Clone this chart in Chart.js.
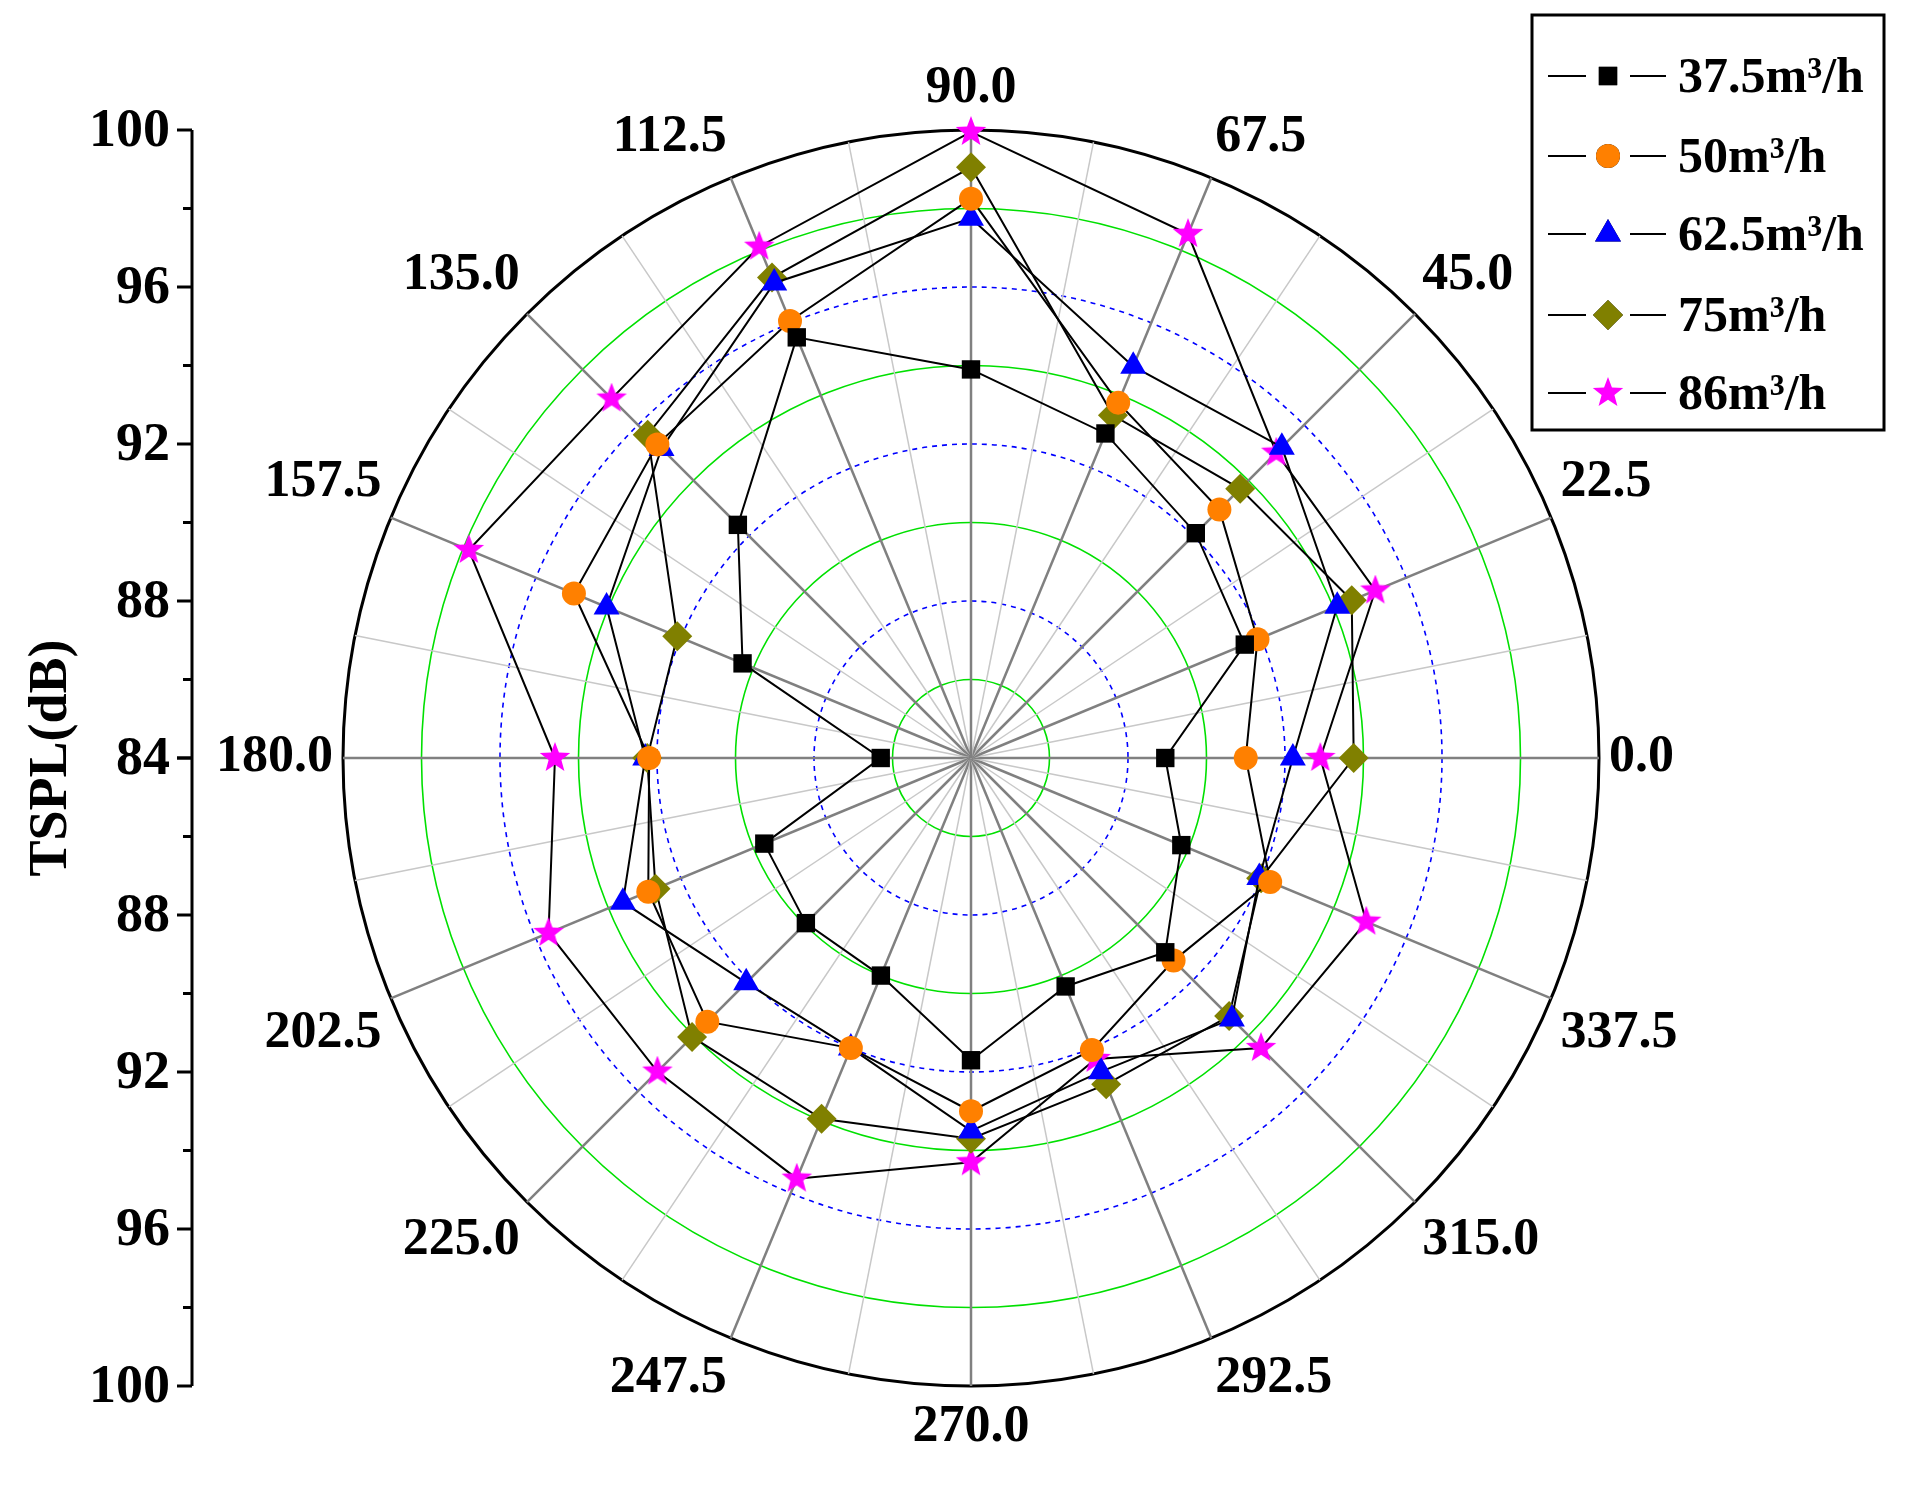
<!DOCTYPE html>
<html>
<head>
<title>TSPL polar</title>
<script src="https://cdn.jsdelivr.net/npm/chart.js"></script>
<style>
  html, body { margin: 0; padding: 0; background: #fff; }
  #wrap { position: relative; width: 1905px; height: 1501px; }
</style>
</head>
<body>
<div id="wrap"><canvas id="polarChart"></canvas></div>
<script>
// angles in degrees, counter-clockwise from 0
const angles = [0, 22.5, 45, 67.5, 90, 112.5, 135, 157.5, 180, 202.5, 225, 247.5, 270, 292.5, 315, 337.5];
const seriesNames = ['37.5m³/h', '50m³/h', '62.5m³/h', '75m³/h', '86m³/h'];
const flow375 = [88.95, 91.55, 92.1, 92.95, 93.9, 95.6, 92.4, 90.3, 86.3, 89.7, 89.95, 90.0, 91.7, 90.3, 91.0, 89.8];
const flow50  = [91.0, 91.9, 92.95, 93.8, 98.25, 96.05, 95.3, 94.95, 92.2, 92.9, 93.5, 92.0, 93.0, 92.05, 91.3, 92.25];
const flow625 = [92.2, 94.1, 95.2, 94.8, 97.75, 97.1, 95.15, 94.05, 92.3, 93.6, 92.1, 92.0, 93.5, 92.65, 93.4, 91.95];
const flow75  = [93.75, 94.5, 93.7, 93.45, 99.05, 97.25, 95.65, 92.1, 92.25, 92.7, 94.05, 93.95, 93.7, 93.0, 93.3, 92.0];
const flow86  = [92.9, 95.15, 95.0, 98.45, 99.95, 98.1, 96.95, 97.85, 94.6, 95.65, 95.3, 95.6, 94.3, 92.3, 94.45, 94.9];
const axisTicks = [100, 96, 92, 88, 84, 88, 92, 96, 100];

const rMin = 84, rMax = 100;
const serif = '"Liberation Serif", "DejaVu Serif", serif';

// Chart.js radar goes clockwise from the top, the polar plot counter-clockwise from the right.
// Use 32 spokes (half-steps give the light grid lines), data only on even spokes.
const spokeLabels = [];
const spokeIndex = [];
for (let k = 0; k < 32; k++) {
  const deg = ((90 - k * 11.25) % 360 + 360) % 360;
  const i = angles.indexOf(deg);
  spokeLabels.push(i >= 0 ? deg.toFixed(1) : '');
  spokeIndex.push(i);
}
function toSpokes(values) {
  return spokeIndex.map(i => (i >= 0 ? values[i] : null));
}

function starImage(size, color) {
  const c = document.createElement('canvas');
  c.width = size; c.height = size;
  const g = c.getContext('2d');
  const R = size / 2, r = R * 0.42;
  g.beginPath();
  for (let k = 0; k < 10; k++) {
    const a = -Math.PI / 2 + k * Math.PI / 5;
    const rr = k % 2 ? r : R;
    g.lineTo(R + rr * Math.cos(a), R + rr * Math.sin(a));
  }
  g.closePath();
  g.fillStyle = color;
  g.fill();
  return c;
}
const star = starImage(32, '#ff00ff');

const colors = ['#000000', '#ff8000', '#0000ff', '#808000', '#ff00ff'];
const styles = ['rect', 'circle', 'triangle', 'rectRot', star];
const radii = [13, 12, 15, 15, 12];
const allData = [flow375, flow50, flow625, flow75, flow86];

const datasets = allData.map((d, s) => ({
  label: seriesNames[s],
  data: toSpokes(d),
  spanGaps: true,
  borderColor: '#000',
  borderWidth: 2,
  backgroundColor: colors[s],
  pointBackgroundColor: colors[s],
  pointBorderColor: colors[s],
  pointBorderWidth: 0,
  pointStyle: styles[s],
  pointRadius: radii[s],
  fill: false,
  tension: 0
}));

const leftAxis = {
  id: 'leftAxis',
  afterDraw(chart) {
    const sc = chart.scales.r;
    const ctx = chart.ctx;
    const x = 192;
    const yc = sc.yCenter;
    const top = yc - sc.getDistanceFromCenterForValue(rMax);
    const bot = yc + sc.getDistanceFromCenterForValue(rMax);
    ctx.save();
    ctx.strokeStyle = '#000';
    ctx.lineWidth = 3;
    ctx.beginPath();
    ctx.moveTo(x, top); ctx.lineTo(x, bot); ctx.stroke();
    ctx.fillStyle = '#000';
    ctx.font = 'bold 54px ' + serif;
    ctx.textAlign = 'right';
    ctx.textBaseline = 'middle';
    for (let v = rMin; v <= rMax; v += 2) {
      const d = sc.getDistanceFromCenterForValue(v);
      const major = (v - rMin) % 4 === 0;
      [yc - d, yc + d].forEach(y => {
        ctx.beginPath();
        ctx.moveTo(x, y); ctx.lineTo(x - (major ? 15 : 9), y); ctx.stroke();
      });
    }
    axisTicks.forEach((t, k) => {
      const d = sc.getDistanceFromCenterForValue(t);
      const y = k < 4 ? yc - d : yc + d;
      ctx.fillText(String(t), x - 22, y + 2);
    });
    ctx.translate(52, yc);
    ctx.rotate(-Math.PI / 2);
    ctx.textAlign = 'center';
    ctx.fillText('TSPL(dB)', 0, 0);
    ctx.restore();
  }
};

const boxLegend = {
  id: 'boxLegend',
  afterDraw(chart) {
    const ctx = chart.ctx;
    ctx.save();
    ctx.strokeStyle = '#000';
    ctx.lineWidth = 3;
    ctx.strokeRect(1532, 15, 352, 415);
    const rows = [76, 156, 234, 315, 393];
    ctx.font = 'bold 50px ' + serif;
    ctx.textBaseline = 'middle';
    rows.forEach((y, s) => {
      ctx.lineWidth = 2;
      ctx.beginPath();
      ctx.moveTo(1548, y); ctx.lineTo(1586, y);
      ctx.moveTo(1630, y); ctx.lineTo(1666, y);
      ctx.stroke();
      if (s === 4) {
        ctx.drawImage(star, 1608 - 16, y - 16);
      } else {
        Chart.helpers.drawPoint(ctx, { pointStyle: styles[s], radius: radii[s], borderWidth: 0, rotation: 0 }, 1608, y);
        ctx.fillStyle = colors[s];
        ctx.fill();
      }
      ctx.fillStyle = '#000';
      ctx.fillText(seriesNames[s], 1678, y + 3);
    });
    ctx.restore();
  }
};

new Chart(document.getElementById('polarChart'), {
  type: 'radar',
  data: { labels: spokeLabels, datasets },
  options: {
    responsive: true,
    maintainAspectRatio: false,
    animation: false,
    layout: { padding: { left: 190, right: 205, top: 16, bottom: 0 } },
    plugins: { legend: { display: false }, tooltip: { enabled: false } },
    scales: {
      r: {
        min: rMin,
        max: rMax,
        ticks: { display: false, stepSize: 2 },
        pointLabels: {
          font: { family: serif, size: 52, weight: 'bold' },
          color: '#000',
          padding: 10
        },
        angleLines: {
          color: c => (c.index % 2 === 0 ? '#808080' : '#c8c8c8'),
          lineWidth: c => (c.index % 2 === 0 ? 2.5 : 1.5)
        },
        grid: {
          circular: true,
          color: c => (c.tick.value === rMax ? '#000' : ((c.tick.value - rMin) % 4 === 0 ? '#0000ff' : '#00e000')),
          lineWidth: c => (c.tick.value === rMax ? 3 : 1.6)
        },
        border: {
          dash: c => (c.tick && c.tick.value !== rMax && (c.tick.value - rMin) % 4 === 0 ? [5, 5] : [])
        }
      }
    }
  },
  plugins: [leftAxis, boxLegend]
});
</script>
</body>
</html>
